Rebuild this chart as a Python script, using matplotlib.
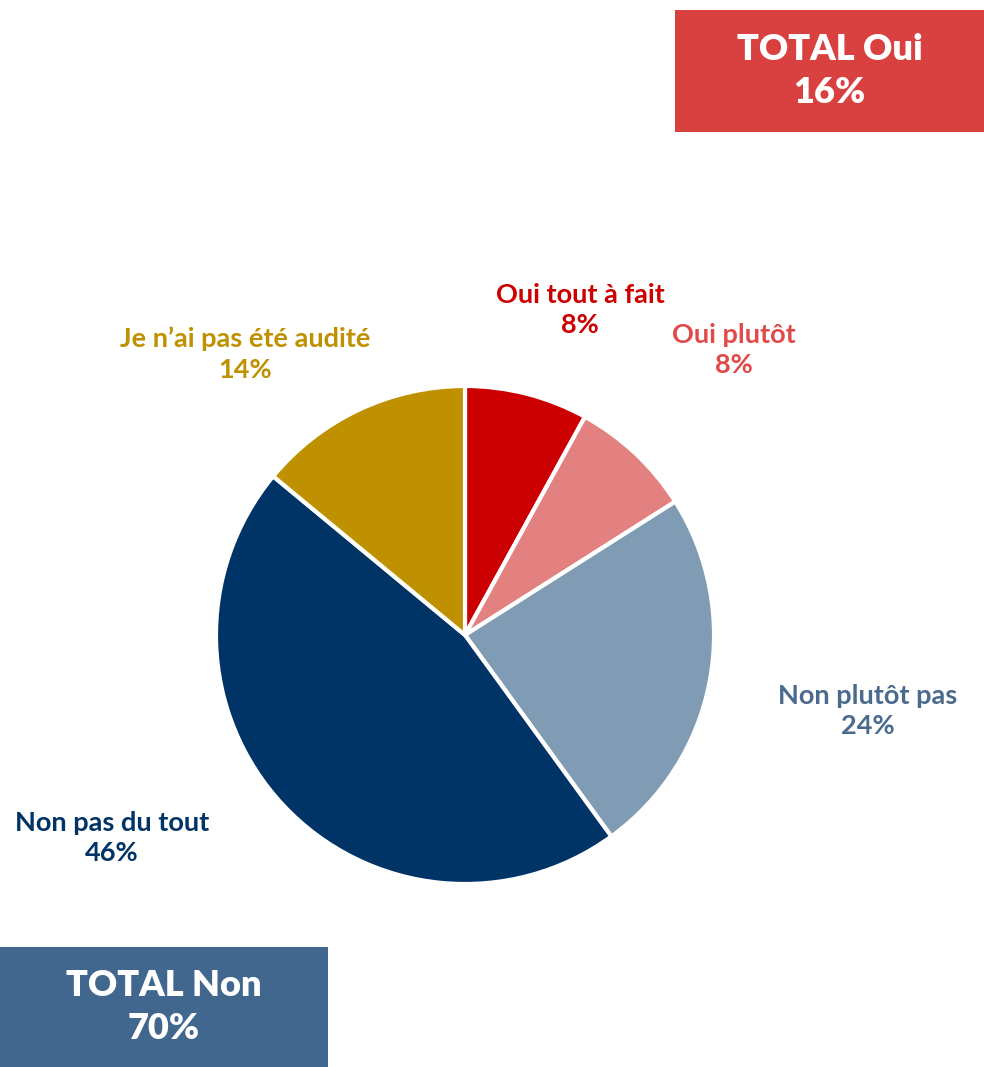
"""Pie chart: audit answers, with TOTAL Oui / TOTAL Non boxes."""
import matplotlib
matplotlib.use("Agg")
import matplotlib.pyplot as plt
from matplotlib.patches import Rectangle

plt.rcParams["font.family"] = ["Lato", "DejaVu Sans"]

# data
categories = ["Oui tout à fait", "Oui plutôt", "Non plutôt pas",
              "Non pas du tout", "Je n’ai pas été audité"]
values = [8, 8, 24, 46, 14]
total_oui = 16
total_non = 70

WEDGE_COLORS = ["#CC0000", "#E38080", "#809BB4", "#003366", "#BF9000"]
LABEL_COLORS = ["#CC0000", "#E04A4A", "#4A6A8E", "#003366", "#BF9000"]
# label centre in pixels (x, y from top)
LABEL_POS = [(580, 310), (734, 350), (868, 711), (112, 838), (245, 354)]

W, H = 984, 1067
fig = plt.figure(figsize=(W / 100, H / 100), dpi=100)
ax = fig.add_axes([0, 0, 1, 1])

explode = [0, 0, 0.03, 0.01, 0]
ax.pie(values, colors=WEDGE_COLORS, startangle=90, counterclock=False,
       center=(465, H - 635), radius=249, explode=explode,
       wedgeprops=dict(edgecolor="white", linewidth=3))
# pie() resets the limits, so set them afterwards
ax.set_xlim(0, W)
ax.set_ylim(0, H)
ax.set_aspect("equal")
ax.axis("off")

for cat, val, col, (x, y) in zip(categories, values, LABEL_COLORS, LABEL_POS):
    ax.text(x, H - y, f"{cat}\n{val}%", ha="center", va="center",
            fontsize=19.5, fontweight="bold", color=col, linespacing=1.33)

# total boxes
def total_box(x0, y0, x1, y1, text, color):
    ax.add_patch(Rectangle((x0, H - y1), x1 - x0, y1 - y0,
                           facecolor=color, edgecolor="none"))
    ax.text((x0 + x1) / 2, H - (y0 + y1) / 2, text, ha="center", va="center",
            fontsize=26, fontweight="heavy", color="white", linespacing=1.4)

total_box(675, 10, 984, 132, f"TOTAL Oui\n{total_oui}%", "#D94141")
total_box(0, 947, 328, 1067, f"TOTAL Non\n{total_non}%", "#41678E")

fig.savefig("out.png", dpi=100, facecolor="white")
plt.close(fig)
